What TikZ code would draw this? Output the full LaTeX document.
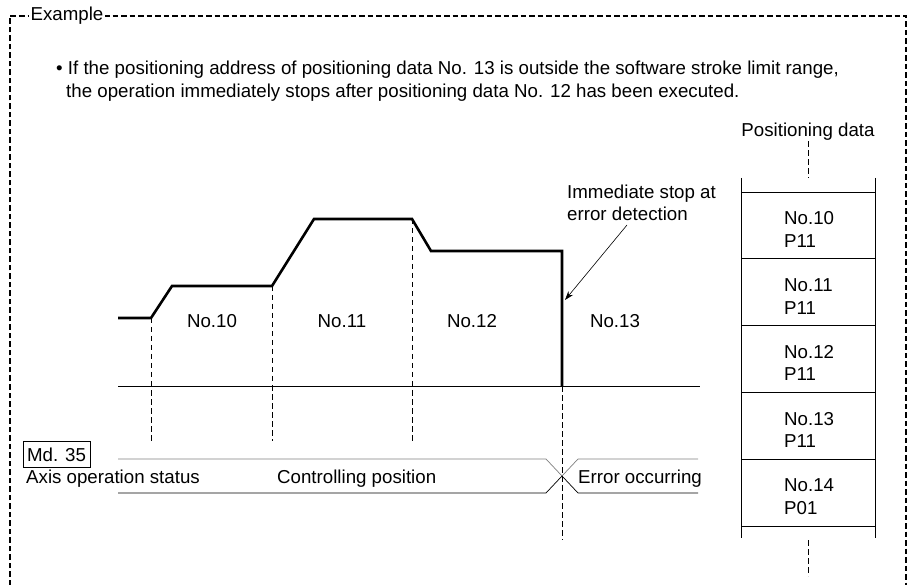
\documentclass[tikz,border=0pt]{standalone}
\usepackage{fontspec}
\setmainfont{Liberation Sans}
\usetikzlibrary{arrows.meta}

\begin{document}
\begin{tikzpicture}[x=1pt, y=-1pt,
    every node/.style={font=\fontsize{18.7}{22.5}\selectfont, inner sep=0pt},
    framedash/.style={line width=1.6pt, dash pattern=on 5.5pt off 3pt},
    guide/.style={line width=0.8pt, dash pattern=on 5.5pt off 3.5pt},
    profile/.style={line width=2.6pt},
    thinline/.style={line width=0.7pt}]
    \useasboundingbox (0,0) rectangle (908,585);

    % frame with title
    \draw[framedash] (10,585) -- (10,16) -- (906,16) -- (906,585);
    \node[fill=white, inner xsep=2pt, inner ysep=1pt, anchor=base] (title) at (67,21) {Example};

    % explanation
    \node[anchor=base west] (line1) at (56,75)
        {\textbullet\ If the positioning address of positioning data No. 13 is outside the software stroke limit range,};
    \node[anchor=base west] (line2) at (66,98)
        {the operation immediately stops after positioning data No. 12 has been executed.};

    % positioning data table
    \node[anchor=base] (pdata) at (808,137) {Positioning data};
    \coordinate (tabtop) at (808,178);
    \coordinate (tabbot) at (808,540);
    \coordinate (tabend) at (808,576);
    \draw[guide] (pdata.south) -- (tabtop);
    \draw[guide] (tabbot) -- (tabend);
    \coordinate (TL) at (741,178);
    \coordinate (TR) at (875,178);
    \coordinate (BL) at (741,538);
    \coordinate (BR) at (875,538);
    \draw[thinline] (TL) -- (BL);
    \draw[thinline] (TR) -- (BR);
    \foreach \k in {0,...,5}
        \draw[thinline] (741,{192+66.8*\k}) -- (875,{192+66.8*\k});
    \foreach \k/\num/\code in {0/10/P11, 1/11/P11, 2/12/P11, 3/13/P11, 4/14/P01}
        \node[anchor=west, align=left] (cell\num) at (784,{225+4.6+66.8*\k}) {No.\num\\\code};

    % speed profile
    \coordinate (P0) at (118,318);
    \coordinate (P1) at (151,318);
    \coordinate (P2) at (172,286);
    \coordinate (P3) at (272,286);
    \coordinate (P4) at (314,219);
    \coordinate (P5) at (412,219);
    \coordinate (P6) at (431,251);
    \coordinate (P7) at (562,251);
    \coordinate (P8) at (562,386);
    \draw[profile] (P0) -- (P1) -- (P2) -- (P3) -- (P4) -- (P5) -- (P6) -- (P7) -- (P8);

    \coordinate (axisL) at (118,386);
    \coordinate (axisR) at (700,386);
    \draw[thinline] (axisL) -- (axisR);

    \coordinate (gbot) at (0,441);
    \coordinate (ebot) at (0,540);
    \foreach \c in {P1, P3, P5}
        \draw[guide] (\c) -- (\c |- gbot);
    \draw[guide] (P8) -- (P8 |- ebot);

    \foreach \num/\x in {10/212, 11/342, 12/472, 13/615}
        \node[anchor=base] (sec\num) at (\x,328) {No.\num};

    % stop note
    \node[anchor=west, align=left] (stopnote) at (567,{198+4.6}) {Immediate stop at\\error detection};
    \coordinate (stopfrom) at (627,225);
    \coordinate (stoptip) at (565,300);
    \draw[-{Stealth[length=9pt, width=6pt]}, line width=0.6pt] (stopfrom) -- (stoptip);

    % axis operation status
    \node[draw, line width=0.8pt, inner xsep=4pt, inner ysep=6.2pt, anchor=base west] (md) at (22.7,461.5) {Md. 35};
    \node[anchor=base west] (axisstat) at (26,483) {Axis operation status};
    \node[anchor=base west] (ctrlpos) at (277,483) {Controlling position};
    \node[anchor=base west] (errocc) at (578,483) {Error occurring};

    \coordinate (S0) at (118,459);
    \coordinate (S1) at (546,459);
    \coordinate (SX) at (562,476);
    \coordinate (S2) at (578,459);
    \coordinate (S3) at (698,459);
    \coordinate (T0) at (118,493);
    \coordinate (T1) at (546,493);
    \coordinate (T2) at (578,493);
    \coordinate (T3) at (698,493);
    \draw[thinline, gray] (S0) -- (S1) -- (SX) -- (S2) -- (S3);
    \draw[thinline] (T0) -- (T1) -- (SX) -- (T2) -- (T3);
\end{tikzpicture}
\end{document}
